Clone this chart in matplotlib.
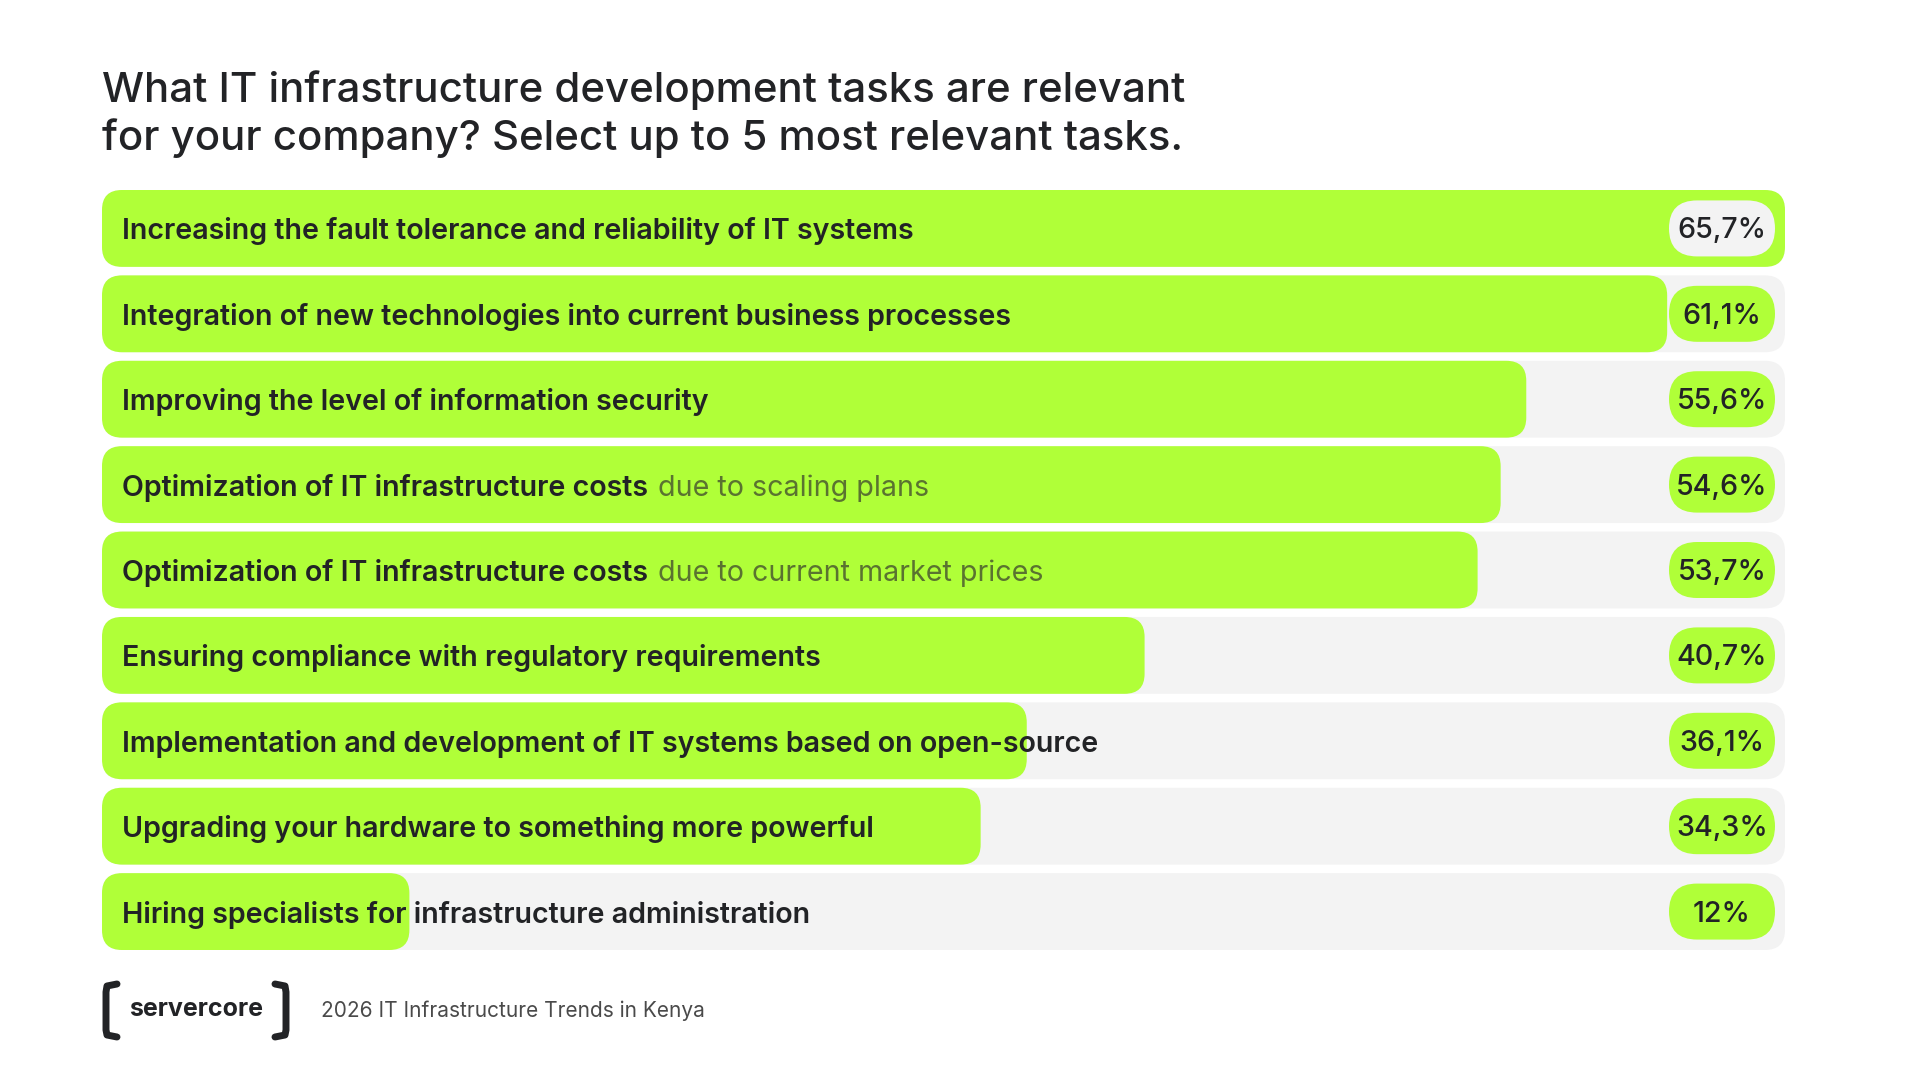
import matplotlib.pyplot as plt
from matplotlib.patches import FancyBboxPatch
from matplotlib.lines import Line2D
from matplotlib.transforms import offset_copy

# --- data ---
tasks = [
    "Increasing the fault tolerance and reliability of IT systems",
    "Integration of new technologies into current business processes",
    "Improving the level of information security",
    "Optimization of IT infrastructure costs",
    "Optimization of IT infrastructure costs",
    "Ensuring compliance with regulatory requirements",
    "Implementation and development of IT systems based on open-source",
    "Upgrading your hardware to something more powerful",
    "Hiring specialists for infrastructure administration",
]
notes = ["", "", "", "due to scaling plans", "due to current market prices",
         "", "", "", ""]
shares = [65.7, 61.1, 55.6, 54.6, 53.7, 40.7, 36.1, 34.3, 12]
share_labels = ["65,7%", "61,1%", "55,6%", "54,6%", "53,7%",
                "40,7%", "36,1%", "34,3%", "12%"]

title_lines = ["What IT infrastructure development tasks are relevant",
               "for your company? Select up to 5 most relevant tasks."]
source = "2026 IT Infrastructure Trends in Kenya"

GREEN = "#b0ff38"
TRACK = "#f3f3f3"
INK = "#222326"
NOTE = "#5a7330"

plt.rcParams['font.family'] = ['Inter', 'DejaVu Sans']

W, H = 1920, 1080
fig = plt.figure(figsize=(W / 100, H / 100), dpi=100)
fig.patch.set_facecolor("white")

# overlay in pixel units for title / footer
bg = fig.add_axes([0, 0, 1, 1])
bg.set_xlim(0, W)
bg.set_ylim(H, 0)
bg.axis("off")

# bar area (pixels)
left, right, top, bottom = 102, 1785, 190, 950
n = len(tasks)
vmax = max(shares)
ax = fig.add_axes([left / W, 1 - bottom / H, (right - left) / W, (bottom - top) / H])
ax.set_xlim(0, vmax)
ax.set_ylim(n - 0.55, -0.45)
ax.axis("off")

xpx = (right - left) / vmax          # pixels per x unit
ypx = (bottom - top) / (n - 0.1)     # pixels per row unit
bar_h = 0.9


def rounded(x, y, w, h, r_px, color, z):
    p = FancyBboxPatch((x, y), w, h,
                       boxstyle=f"round,pad=0,rounding_size={r_px / xpx}",
                       mutation_aspect=xpx / ypx,
                       fc=color, ec="none", zorder=z)
    ax.add_patch(p)


label_tr = offset_copy(ax.transData, fig, x=20, y=-11, units="dots")
val_tr = offset_copy(ax.transData, fig, y=-10, units="dots")
pill_w = 106 / xpx
pill_h = 56 / ypx
pill_right = vmax - 10 / xpx

for i, (task, note, v, lab) in enumerate(zip(tasks, notes, shares, share_labels)):
    rounded(0, i - bar_h / 2, vmax, bar_h, 20, TRACK, 1)
    rounded(0, i - bar_h / 2, v, bar_h, 20, GREEN, 2)
    t = ax.text(0, i, task, transform=label_tr, va="baseline", ha="left",
                fontsize=20.6, fontweight="semibold", color=INK, zorder=5)
    if note:
        ax.annotate(note, xy=(1, 0), xycoords=t, xytext=(10, 0),
                    textcoords="offset pixels", va="bottom", ha="left",
                    fontsize=20.6, color=NOTE, zorder=5)
    # value pill: grey on the full bar, green elsewhere
    pc = TRACK if v == vmax else GREEN
    rounded(pill_right - pill_w, i - pill_h / 2, pill_w, pill_h, 28, pc, 3)
    ax.text(pill_right - pill_w / 2, i, lab, transform=val_tr, ha="center",
            va="baseline", fontsize=20.6, fontweight="medium", color=INK, zorder=5)

# title
bg.text(102, 102, title_lines[0], fontsize=30.2, fontweight="medium", color=INK,
        va="baseline", ha="left")
bg.text(102, 150, title_lines[1], fontsize=30.2, fontweight="medium", color=INK,
        va="baseline", ha="left")

# footer logo
lw = 5
for xs in ([117, 107, 106, 106, 107, 117], [275, 285, 286, 286, 285, 275]):
    bg.add_line(Line2D(xs, [984, 986, 992, 1030, 1035, 1037], color=INK, lw=lw,
                       solid_capstyle="round", solid_joinstyle="round"))
bg.text(196, 1010, "servercore", fontsize=18, fontweight="bold", color=INK,
        ha="center", va="center")
bg.text(321, 1011, source, fontsize=15, color="#4a4a4a", ha="left", va="center")

fig.savefig("out.png", dpi=100, facecolor="white")
